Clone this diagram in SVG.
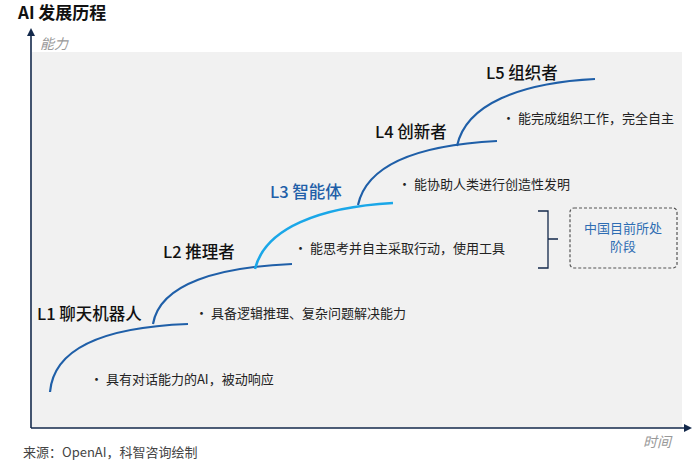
<svg xmlns="http://www.w3.org/2000/svg" width="699" height="472" viewBox="0 0 699 472">
<style>
text{font-family:"Noto Sans CJK SC","Noto Sans",sans-serif;}
.lv{font-size:16.5px;fill:#111;font-weight:500;}
.d{font-size:13px;fill:#222;}
.c{fill:none;stroke:#1f5fa8;stroke-width:2.2;}
.ax{stroke:#13294b;stroke-width:1.6;fill:none;}
</style>
<defs>
<marker id="ar" markerWidth="8" markerHeight="8" refX="6" refY="4" orient="auto" markerUnits="userSpaceOnUse"><path d="M0,0 L8,4 L0,8 Z" fill="#13294b"/></marker>
</defs>
<rect width="699" height="472" fill="#fff"/>
<rect x="32" y="52" width="650" height="376" fill="#f1f1f1"/>
<text x="18" y="19" font-size="17" font-weight="bold" fill="#111">AI 发展历程</text>
<text x="40" y="49" font-size="14" fill="#999" font-style="italic">能力</text>
<text x="643" y="447" font-size="14" fill="#999" font-style="italic">时间</text>
<text x="23" y="457" font-size="13" fill="#444">来源：OpenAI，科智咨询绘制</text>
<g id="connectors">
<path class="ax" d="M31,428 V30" marker-end="url(#ar)"/>
<path class="ax" d="M31,428 H690" marker-end="url(#ar)"/>
<path class="c" d="M50,392 C54,345 110,327 188,324"/>
<path class="c" d="M153,324 C160,283 220,267 292,264"/>
<path d="M255,269 C265,228 320,207 393,203" fill="none" stroke="#1aa7e8" stroke-width="2.5"/>
<path class="c" d="M358,205 C367,164 420,145 497,141"/>
<path class="c" d="M457,146 C466,104 520,83 595,79"/>
<path d="M538,211 H548 V239 H558 M548,239 V268 H538" fill="none" stroke="#13294b" stroke-width="1.3"/>
</g>
<g id="L1"><text class="lv" x="37" y="320">L1 聊天机器人</text><text class="d" x="90" y="384">•  具有对话能力的AI，被动响应</text></g>
<g id="L2"><text class="lv" x="163" y="258">L2 推理者</text><text class="d" x="195" y="318">•  具备逻辑推理、复杂问题解决能力</text></g>
<g id="L3"><text x="270" y="198" font-size="16.5" font-weight="500" fill="#1f5fa8">L3 智能体</text><text class="d" x="294" y="253">•  能思考并自主采取行动，使用工具</text></g>
<g id="L4"><text class="lv" x="375" y="138">L4 创新者</text><text class="d" x="398" y="189">•  能协助人类进行创造性发明</text></g>
<g id="L5"><text class="lv" x="486" y="79">L5 组织者</text><text class="d" x="502" y="123">•  能完成组织工作，完全自主</text></g>
<g id="note"><rect x="570" y="208" width="107" height="60" rx="4" fill="none" stroke="#555" stroke-width="1.2" stroke-dasharray="3,2"/><text x="623" y="233" font-size="13" fill="#2e6db3" text-anchor="middle">中国目前所处</text><text x="623" y="251" font-size="13" fill="#2e6db3" text-anchor="middle">阶段</text></g>
</svg>
